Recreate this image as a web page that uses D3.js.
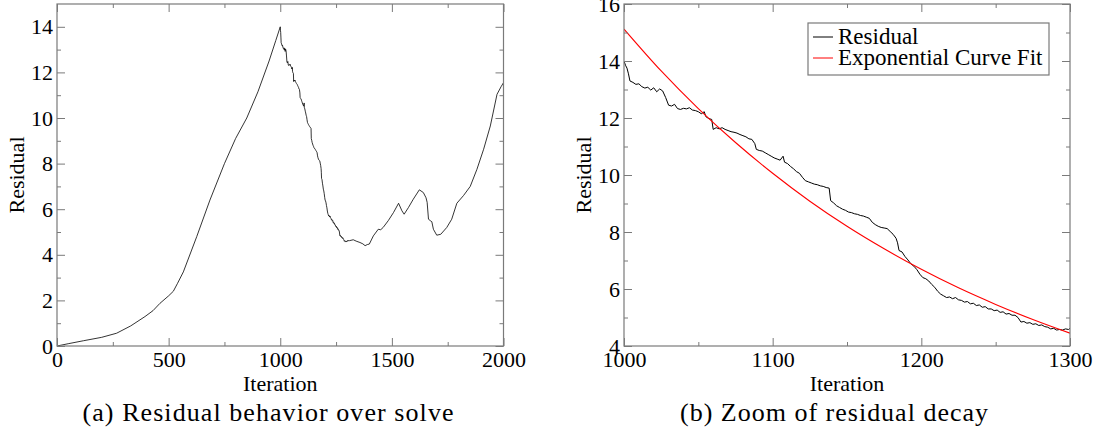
<!DOCTYPE html>
<html>
<head>
<meta charset="utf-8">
<script src="https://cdn.jsdelivr.net/npm/d3@7"></script>
<style>
  body { margin: 0; background: #fff; }
  svg text { font-family: "Liberation Serif", "Times New Roman", serif; fill: #000; }
</style>
</head>
<body>
<div id="chart"></div>
<script>
// residual history (coarse outside 1000-1300, dense inside)
const iterations = [
  0, 50, 118, 200, 267, 330, 394, 430, 461, 500, 521, 540, 566, 626, 685, 750, 800, 850, 900, 950, 980,
  1000, 1001, 1002, 1003, 1004, 1006, 1008, 1010, 1012, 1014, 1016, 1018, 1020, 1022, 1024, 1026, 1028,
  1030, 1032, 1034, 1036, 1038, 1040, 1042, 1044, 1046, 1048, 1050, 1052, 1054, 1055, 1057, 1059, 1060,
  1062, 1064, 1066, 1068, 1070, 1072, 1074, 1076, 1078, 1080, 1082, 1084, 1086, 1088, 1089, 1091, 1093,
  1095, 1097, 1099, 1101, 1103, 1105, 1107, 1108, 1110, 1112, 1114, 1116, 1118, 1120, 1122, 1124, 1126,
  1128, 1130, 1132, 1134, 1136, 1138, 1139, 1141, 1143, 1145, 1147, 1149, 1151, 1153, 1155, 1157, 1159,
  1161, 1163, 1165, 1167, 1169, 1171, 1173, 1175, 1177, 1179, 1181, 1183, 1184, 1185, 1187, 1189, 1191,
  1193, 1195, 1197, 1199, 1201, 1203, 1205, 1207, 1209, 1211, 1213, 1215, 1217, 1219, 1221, 1223, 1225,
  1227, 1229, 1231, 1233, 1235, 1237, 1239, 1241, 1243, 1245, 1247, 1249, 1251, 1253, 1255, 1257, 1259,
  1261, 1263, 1265, 1267, 1269, 1271, 1273, 1275, 1277, 1279, 1281, 1283, 1285, 1287, 1289, 1291, 1293,
  1295, 1297, 1299, 1300,
  1310, 1327, 1340, 1357, 1370, 1380, 1390, 1399, 1408, 1417, 1439, 1450, 1461, 1484, 1507, 1530, 1545,
  1555, 1574, 1596, 1623, 1641, 1653, 1658, 1664, 1672, 1679, 1686, 1701, 1719, 1746, 1768, 1791, 1821,
  1851, 1881, 1911, 1941, 1971, 1989, 2000
];
const residual = [
  0, 0.1, 0.23, 0.38, 0.56, 0.88, 1.29, 1.55, 1.87, 2.2, 2.4, 2.75, 3.25, 4.8, 6.4, 8.0, 9.1, 10.0, 11.15, 12.5, 13.4,
  14.0, 13.85, 13.75, 13.55, 13.3, 13.25, 13.18, 13.2, 13.1, 13.05, 13.08, 12.98, 13.06, 12.92, 13.02, 12.95, 12.72,
  12.45, 12.42, 12.48, 12.33, 12.3, 12.34, 12.32, 12.36, 12.28, 12.26, 12.22, 12.15, 12.22, 12.05, 11.98, 11.95, 11.6,
  11.66, 11.62, 11.66, 11.6, 11.56, 11.52, 11.5, 11.47, 11.42, 11.38, 11.34, 11.27, 11.25, 11.1, 10.9, 10.86, 10.84,
  10.78, 10.72, 10.66, 10.6, 10.56, 10.52, 10.66, 10.45, 10.4, 10.3, 10.22, 10.12, 10.06, 9.92, 9.8, 9.76, 9.72,
  9.68, 9.66, 9.62, 9.6, 9.56, 9.54, 9.1, 9.02, 8.92, 8.86, 8.8, 8.76, 8.7, 8.68, 8.64, 8.62, 8.58,
  8.56, 8.52, 8.48, 8.34, 8.26, 8.2, 8.16, 8.14, 8.12, 8.02, 7.92, 7.78, 7.62, 7.35, 7.3, 7.14, 7.02,
  6.88, 6.8, 6.68, 6.52, 6.4, 6.36, 6.28, 6.16, 6.06, 5.92, 5.82, 5.76, 5.7, 5.72, 5.66, 5.7, 5.62,
  5.6, 5.54, 5.56, 5.48, 5.5, 5.42, 5.44, 5.36, 5.38, 5.3, 5.3, 5.24, 5.26, 5.18, 5.2, 5.12, 5.14,
  5.08, 5.08, 5.0, 4.84, 4.86, 4.8, 4.82, 4.76, 4.78, 4.72, 4.74, 4.68, 4.66, 4.6, 4.62, 4.56, 4.58,
  4.56, 4.6, 4.58, 4.62,
  4.62, 4.66, 4.6, 4.54, 4.48, 4.4, 4.45, 4.47, 4.65, 4.83, 5.12, 5.1, 5.2, 5.5, 5.85, 6.26, 5.93,
  5.78, 6.07, 6.44, 6.85, 6.73, 6.5, 6.3, 5.56, 5.5, 5.45, 5.12, 4.86, 4.9, 5.2, 5.56, 6.26, 6.6,
  7.0, 7.75, 8.63, 9.65, 11.04, 11.37, 11.55
];

// exponential curve fit, sampled from the right plot
const fitIterations = [1000, 1025, 1050, 1075, 1100, 1125, 1150, 1175, 1200, 1225, 1250, 1275, 1300];
const fitValues = [15.12, 13.65, 12.33, 11.14, 10.06, 9.08, 8.2, 7.41, 6.69, 6.04, 5.46, 4.93, 4.45];

// ticks
const leftXMajor = [0, 500, 1000, 1500, 2000];
const leftXMinor = [250, 750, 1250, 1750];
const leftYMajor = [0, 2, 4, 6, 8, 10, 12, 14];
const leftYMinor = [1, 3, 5, 7, 9, 11, 13];
const rightXMajor = [1000, 1100, 1200, 1300];
const rightXMinor = [1050, 1150, 1250];
const rightYMajor = [4, 6, 8, 10, 12, 14, 16];
const rightYMinor = [5, 7, 9, 11, 13, 15];

const legendLabels = ["Residual", "Exponential Curve Fit"];
const legendColors = ["#000", "#ff0000"];

const W = 1107, H = 436;
const frameColor = "#7a7a7a";

const svg = d3.select("#chart").append("svg")
    .attr("width", W)
    .attr("height", H);

const series = iterations.map((it, i) => ({ x: it, y: residual[i] }));
const fit = fitIterations.map((it, i) => ({ x: it, y: fitValues[i] }));

function drawAxes(g, x, y, w, h, xMajor, xMinor, yMajor, yMinor) {
    const major = 8, minor = 4;

    const bottom = g.append("g").attr("transform", `translate(0,${h})`);
    bottom.call(d3.axisBottom(x).tickValues(xMajor).tickSize(-major).tickPadding(5).tickFormat(d3.format("d")));
    bottom.append("g").call(d3.axisBottom(x).tickValues(xMinor).tickSize(-minor).tickFormat(""));

    const top = g.append("g");
    top.call(d3.axisTop(x).tickValues(xMajor).tickSize(-major).tickFormat(""));
    top.append("g").call(d3.axisTop(x).tickValues(xMinor).tickSize(-minor).tickFormat(""));

    const left = g.append("g");
    left.call(d3.axisLeft(y).tickValues(yMajor).tickSize(-major).tickPadding(4).tickFormat(d3.format("d")));
    left.append("g").call(d3.axisLeft(y).tickValues(yMinor).tickSize(-minor).tickFormat(""));

    const right = g.append("g").attr("transform", `translate(${w},0)`);
    right.call(d3.axisRight(y).tickValues(yMajor).tickSize(-major).tickFormat(""));
    right.append("g").call(d3.axisRight(y).tickValues(yMinor).tickSize(-minor).tickFormat(""));

    g.selectAll(".domain").remove();
    g.selectAll(".tick line").attr("stroke", frameColor);
    g.selectAll(".tick text")
        .attr("font-family", "Liberation Serif")
        .attr("font-size", 22)
        .attr("fill", "#000");

    g.append("rect")
        .attr("width", w)
        .attr("height", h)
        .attr("fill", "none")
        .attr("stroke", frameColor)
        .attr("stroke-width", 1.2);
}

function drawPanel(opts) {
    const w = opts.right - opts.left;
    const h = opts.bottom - opts.top;
    const g = svg.append("g").attr("transform", `translate(${opts.left},${opts.top})`);

    const x = d3.scaleLinear().domain(opts.xDomain).range([0, w]);
    const y = d3.scaleLinear().domain(opts.yDomain).range([h, 0]);

    const clipId = "clip-" + opts.id;
    g.append("clipPath").attr("id", clipId)
        .append("rect").attr("width", w).attr("height", h);

    const plot = g.append("g").attr("clip-path", `url(#${clipId})`);
    const line = d3.line().x(d => x(d.x)).y(d => y(d.y));

    opts.lines.forEach(l => {
        plot.append("path")
            .datum(l.data.filter(d => d.x >= opts.xDomain[0] && d.x <= opts.xDomain[1]))
            .attr("fill", "none")
            .attr("stroke", l.color)
            .attr("stroke-width", l.width)
            .attr("stroke-linejoin", "round")
            .attr("d", l.curve ? line.curve(l.curve) : line.curve(d3.curveLinear));
    });

    drawAxes(g, x, y, w, h, opts.xMajor, opts.xMinor, opts.yMajor, opts.yMinor);

    // axis titles
    g.append("text")
        .attr("x", w / 2)
        .attr("y", h + 45)
        .attr("text-anchor", "middle")
        .attr("font-size", 22)
        .text("Iteration");
    g.append("text")
        .attr("transform", `translate(-33,${h / 2}) rotate(-90)`)
        .attr("text-anchor", "middle")
        .attr("font-size", 22)
        .text("Residual");

    // sub caption
    svg.append("text")
        .attr("x", opts.captionX)
        .attr("y", 421)
        .attr("text-anchor", "middle")
        .attr("font-size", 26)
        .attr("textLength", opts.captionWidth)
        .attr("lengthAdjust", "spacing")
        .text(opts.caption);

    return { g, x, y, w, h };
}

drawPanel({
    id: "a", left: 57, right: 503.5, top: 4, bottom: 346,
    xDomain: [0, 2000], yDomain: [0, 15],
    xMajor: leftXMajor, xMinor: leftXMinor, yMajor: leftYMajor, yMinor: leftYMinor,
    lines: [{ data: series, color: "#000", width: 0.8 }],
    caption: "(a) Residual behavior over solve", captionX: 268, captionWidth: 371
});

const pb = drawPanel({
    id: "b", left: 624, right: 1070, top: 4, bottom: 346,
    xDomain: [1000, 1300], yDomain: [4, 16],
    xMajor: rightXMajor, xMinor: rightXMinor, yMajor: rightYMajor, yMinor: rightYMinor,
    lines: [
        { data: series, color: legendColors[0], width: 1 },
        { data: fit, color: legendColors[1], width: 1.1, curve: d3.curveMonotoneX }
    ],
    caption: "(b) Zoom of residual decay", captionX: 834, captionWidth: 308
});

// legend
const legend = svg.append("g").attr("transform", "translate(808,23)");
legend.append("rect")
    .attr("width", 241)
    .attr("height", 52)
    .attr("fill", "#fff")
    .attr("stroke", frameColor)
    .attr("stroke-width", 1.2);
legendLabels.forEach((lab, i) => {
    const cy = 14 + i * 21;
    legend.append("line")
        .attr("x1", 5).attr("x2", 25)
        .attr("y1", cy).attr("y2", cy)
        .attr("stroke", legendColors[i])
        .attr("stroke-width", 1);
    legend.append("text")
        .attr("x", 30)
        .attr("y", cy + 7)
        .attr("font-size", 23)
        .text(lab);
});
</script>
</body>
</html>
